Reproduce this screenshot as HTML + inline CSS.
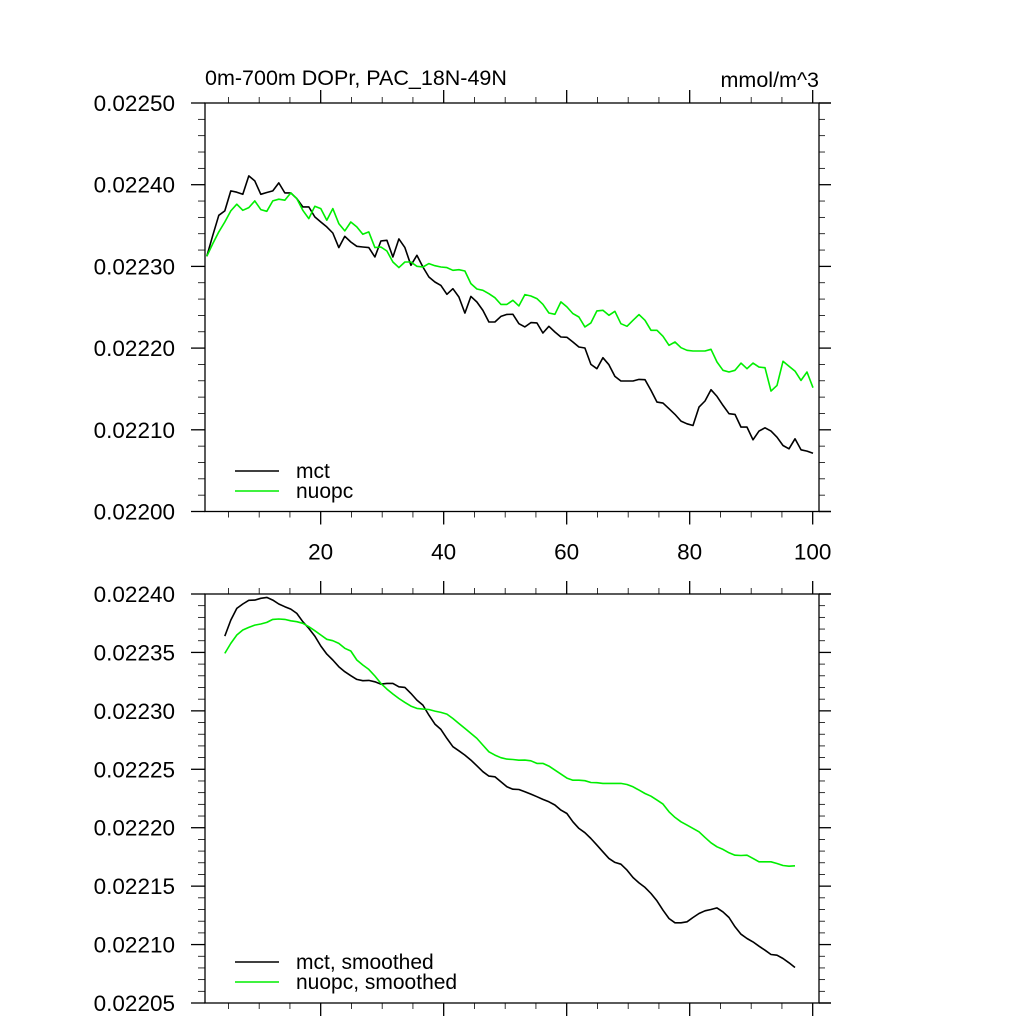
<!DOCTYPE html>
<html><head><meta charset="utf-8">
<style>
html,body{margin:0;padding:0;background:#fff;}
svg{display:block;font-family:"Liberation Sans",sans-serif;}
</style></head>
<body>
<svg id="chart" width="1024" height="1024" viewBox="0 0 1024 1024" xmlns="http://www.w3.org/2000/svg">
<rect x="0" y="0" width="1024" height="1024" fill="#fff"/>
<text x="205" y="85" font-size="21.5">0m-700m DOPr, PAC_18N-49N</text>
<text x="819" y="87" font-size="21.5" text-anchor="end">mmol/m^3</text>
<g id="top"></g>
<g id="bot"></g>
</svg>
<script>
// raw annual series (units of 1e-5 mmol/m^3)
const mctRaw = [2231.24,2233.81,2236.26,2236.79,2239.24,2239.08,2238.83,2241.08,2240.47,2238.83,2239.04,2239.24,2240.22,2239.0,2239.0,2238.30,2237.28,2237.28,2236.06,2235.44,2234.83,2234.09,2232.30,2233.69,2232.99,2232.46,2232.38,2232.30,2231.15,2233.11,2233.20,2231.15,2233.36,2232.30,2230.13,2231.36,2229.93,2228.70,2228.09,2227.68,2226.58,2227.27,2226.25,2224.29,2226.33,2225.64,2224.62,2223.19,2223.19,2223.88,2224.13,
2224.14,2222.99,2222.59,2223.12,2223.08,2221.85,2222.67,2221.97,2221.36,2221.32,2220.75,2220.13,2220.01,2218.01,2217.48,2218.83,2217.97,2216.54,2215.97,2215.97,2215.97,2216.17,2216.13,2214.82,2213.39,2213.27,2212.58,2211.88,2211.07,2210.74,2210.53,2212.78,2213.52,2214.91,2214.09,2212.99,2211.97,2211.88,2210.33,2210.33,2208.78,2209.84,2210.25,2209.84,2209.10,2208.08,2207.68,2208.90,2207.55,2207.39,2207.14];
const nuopcRaw = [2231.24,2232.79,2234.22,2235.44,2236.79,2237.61,2236.87,2237.20,2238.02,2236.95,2236.75,2238.02,2238.22,2238.10,2239.0,2238.30,2236.87,2235.85,2237.36,2237.08,2235.65,2237.08,2235.24,2234.34,2235.44,2234.83,2233.93,2234.22,2232.30,2232.38,2231.89,2230.54,2229.85,2230.54,2230.54,2230.01,2229.93,2230.34,2230.09,2229.93,2229.85,2229.52,2229.60,2229.44,2227.89,2227.23,2227.07,2226.66,2226.17,2225.35,2225.35,
2225.85,2225.16,2226.55,2226.38,2226.06,2225.36,2224.30,2224.14,2225.65,2225.04,2224.22,2223.81,2222.59,2223.08,2224.55,2224.63,2224.02,2224.51,2222.99,2222.67,2223.40,2224.10,2223.40,2222.18,2222.18,2221.44,2220.34,2220.75,2220.05,2219.73,2219.64,2219.64,2219.64,2219.85,2218.30,2217.28,2217.07,2217.28,2218.17,2217.48,2218.17,2217.68,2217.60,2214.74,2215.44,2218.38,2217.77,2217.19,2216.05,2217.07,2215.15];
// smoothed series start at the 4th year
const smoothStart = 3;
const mctSmooth = [2236.40,2237.77,2238.77,2239.14,2239.46,2239.48,2239.63,2239.71,2239.48,2239.14,2238.91,2238.71,2238.34,2237.63,2237.06,2236.40,2235.55,2234.86,2234.35,2233.78,2233.35,2233.01,2232.69,2232.58,2232.61,2232.49,2232.29,2232.35,2232.35,2232.06,2232.01,2231.49,2230.92,2230.49,2229.64,2228.87,2228.41,2227.64,2226.93,2226.58,2226.21,2225.79,2225.30,2224.79,2224.42,2224.36,2223.93,2223.50,2223.30,2223.27,
2223.08,2222.88,2222.65,2222.42,2222.22,2221.94,2221.51,2221.22,2220.51,2219.94,2219.57,2219.08,2218.51,2217.94,2217.37,2217.03,2216.88,2216.37,2215.74,2215.28,2214.89,2214.37,2213.74,2212.94,2212.23,2211.86,2211.86,2211.95,2212.32,2212.66,2212.89,2213.00,2213.14,2212.80,2212.32,2211.52,2210.89,2210.52,2210.23,2209.86,2209.52,2209.15,2209.09,2208.81,2208.44,2208.04];
const nuopcSmooth = [2234.92,2235.77,2236.49,2236.92,2237.14,2237.34,2237.43,2237.57,2237.83,2237.86,2237.83,2237.71,2237.63,2237.49,2237.20,2236.86,2236.49,2236.12,2236.00,2235.77,2235.35,2235.12,2234.35,2233.92,2233.55,2232.98,2232.35,2231.86,2231.44,2231.06,2230.72,2230.41,2230.21,2230.15,2230.12,2229.98,2229.87,2229.72,2229.35,2228.92,2228.50,2228.07,2227.64,2227.07,2226.50,2226.21,2225.99,2225.87,2225.84,2225.78,
2225.79,2225.73,2225.50,2225.50,2225.27,2224.93,2224.59,2224.25,2224.07,2224.07,2224.02,2223.87,2223.85,2223.79,2223.79,2223.79,2223.79,2223.70,2223.50,2223.22,2222.93,2222.70,2222.36,2222.02,2221.36,2220.88,2220.51,2220.22,2219.94,2219.65,2219.17,2218.71,2218.37,2218.14,2217.85,2217.65,2217.62,2217.65,2217.37,2217.08,2217.08,2217.08,2216.94,2216.77,2216.71,2216.74];
const xTicks = [20,40,60,80,100];
const topYTicks = ["0.02200","0.02210","0.02220","0.02230","0.02240","0.02250"];
const botYTicks = ["0.02205","0.02210","0.02215","0.02220","0.02225","0.02230","0.02235","0.02240"];

const NS="http://www.w3.org/2000/svg";
function mk(parent,tag,attrs){const e=document.createElementNS(NS,tag);for(const k in attrs)e.setAttribute(k,attrs[k]);parent.appendChild(e);return e;}
const L=205,R=819,RX=831;
const xMin=1.19, xPx=6.15;
function xs(v){return L+(v-xMin)*xPx;}
function yearOf(i){return 1.48+0.976*i;}

function panel(g,top,bot,yMin,yMax,yLabels,minorPerMajor,showXLabels,prefix){
  const ys=v=>bot-(v-yMin)/(yMax-yMin)*(bot-top);
  const frame=mk(g,'rect',{x:L,y:top,width:R-L,height:bot-top,fill:'none',stroke:'#000','stroke-width':1.3});
  
  
  mk(g,'line',{x1:R,y1:top,x2:RX,y2:top,stroke:'#000','stroke-width':1.3});
  mk(g,'line',{x1:R,y1:bot,x2:RX,y2:bot,stroke:'#000','stroke-width':1.3});
  for(let v=5;v<=100;v+=5){
    const x=xs(v);const major=(v%20===0);const len=major?13:6;
    mk(g,'line',{x1:x,y1:bot,x2:x,y2:bot+len,stroke:'#000','stroke-width':major?1.3:0.8});
    mk(g,'line',{x1:x,y1:top,x2:x,y2:top-len,stroke:'#000','stroke-width':major?1.3:0.8});
  }
  if(showXLabels){
    xTicks.forEach(t=>{
      const tx=mk(g,'text',{x:xs(t),y:bot+48,'font-size':22.5,'text-anchor':'middle'});
      
      
      tx.textContent=t;
    });
  }
  const step=(yMax-yMin)/(yLabels.length-1);
  for(let k=0;k<yLabels.length;k++){
    const v=yMin+k*step,y=ys(v);
    mk(g,'line',{x1:L,y1:y,x2:L-14,y2:y,stroke:'#000','stroke-width':1.3});
    mk(g,'line',{x1:R,y1:y,x2:R+12,y2:y,stroke:'#000','stroke-width':1.3});
    const tx=mk(g,'text',{x:175,y:y+8,'font-size':22.5,'text-anchor':'end'});
    
    
    tx.textContent=yLabels[k];
    if(k<yLabels.length-1){
      for(let m=1;m<minorPerMajor;m++){
        const ym=ys(v+m*step/minorPerMajor);
        mk(g,'line',{x1:L,y1:ym,x2:L-7,y2:ym,stroke:'#000','stroke-width':0.8});
        mk(g,'line',{x1:R,y1:ym,x2:R+6,y2:ym,stroke:'#000','stroke-width':0.8});
      }
    }
  }
  return ys;
}
function series(g,vals,start,ys,color,name){
  const pts=vals.map((v,i)=>xs(yearOf(i+start)).toFixed(1)+','+ys(v/1e5).toFixed(1)).join(' ');
  const p=mk(g,'polyline',{points:pts,fill:'none',stroke:color,'stroke-width':1.6,'stroke-linejoin':'round'});
  
  
}
function legend(g,y,color,label,name,fs){
  mk(g,'line',{x1:235,y1:y,x2:279,y2:y,stroke:color,'stroke-width':1.6});
  const t=mk(g,'text',{x:296,y:y+7,'font-size':fs});
  
  
  t.textContent=label;
}
const gt=document.getElementById('top');


const ysT=panel(gt,103,511.5,0.02200,0.02250,topYTicks,5,true,'top');
series(gt,mctRaw,0,ysT,'#000','mct-line');
series(gt,nuopcRaw,0,ysT,'#00ee00','nuopc-line');
legend(gt,471,'#000','mct','legend-mct',21);
legend(gt,491,'#00ee00','nuopc','legend-nuopc',21);

const gb=document.getElementById('bot');


const ysB=panel(gb,594,1003,0.02205,0.02240,botYTicks,5,false,'bottom');
series(gb,mctSmooth,smoothStart,ysB,'#000','mct-smoothed-line');
series(gb,nuopcSmooth,smoothStart,ysB,'#00ee00','nuopc-smoothed-line');
legend(gb,962,'#000','mct, smoothed','legend-mct-smoothed',21);
legend(gb,982,'#00ee00','nuopc, smoothed','legend-nuopc-smoothed',21);
</script>
</body></html>
